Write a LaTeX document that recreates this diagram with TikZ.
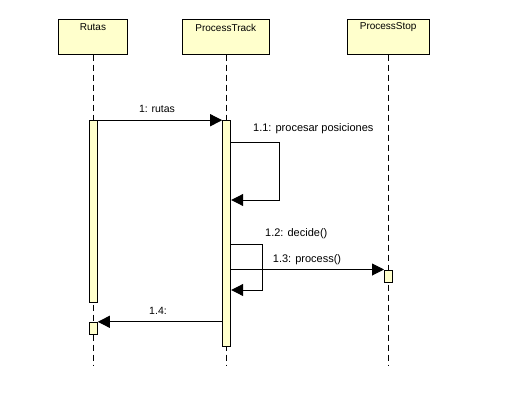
\documentclass[tikz,border=0pt]{standalone}
\usepackage{fontspec}
\setmainfont{Liberation Sans}
\usetikzlibrary{arrows.meta}
\definecolor{boxfill}{RGB}{255,255,204}
\tikzset{
  head/.style={draw=black, fill=boxfill, line width=1pt, minimum height=35pt, inner sep=0pt},
  headtext/.style={font=\fontsize{10}{12}\selectfont, inner sep=0pt},
  lifeline/.style={draw=black, line width=1pt, dash pattern=on 6pt off 4pt},
  act/.style={draw=black, fill=boxfill, line width=1pt, minimum width=8pt, inner sep=0pt},
  msg/.style={draw=black, line width=1pt, -{Triangle[length=12pt,width=12pt]}},
  msglabel/.style={font=\fontsize{10.5}{12}\selectfont, inner sep=0pt},
  msglabelw/.style={font=\fontsize{11}{13}\selectfont, inner sep=0pt, anchor=west},
}
\begin{document}
\begin{tikzpicture}[x=1pt,y=-1pt]
\useasboundingbox[fill=white] (0,0) rectangle (506,407);
% heads
\node[head, minimum width=69pt] (rutas) at (92.8,36.5) {};
\node[head, minimum width=87pt] (ptrack) at (225.8,36.5) {};
\node[head, minimum width=82pt] (pstop) at (388.2,36.5) {};
\node[headtext] (trutas) at (93,27.5) {Rutas};
\node[headtext] (tptrack) at (225.8,27.5) {ProcessTrack};
\node[headtext] (tpstop) at (388.2,27.5) {ProcessStop};
% lifeline ends
\coordinate (erutas) at (93,366);
\coordinate (eptrack) at (226.5,366);
\coordinate (epstop) at (388.5,366);
\draw[lifeline] (rutas.south -| erutas) -- (erutas);
\draw[lifeline] (ptrack.south -| eptrack) -- (eptrack);
\draw[lifeline] (pstop.south -| epstop) -- (epstop);
% activations
\node[act, minimum height=181.6pt] (a1) at (93.3,211.5) {};
\node[act, minimum height=12pt] (a2) at (93.3,328.3) {};
\node[act, minimum height=226pt] (pt) at (226.7,233) {};
\node[act, minimum height=12.3pt] (ps) at (388.5,276.15) {};
% messages
\draw[msg] (a1.north east) -- (pt.west |- a1.north);
\node[msglabel] (l1) at (157,108.5) {1: rutas};
\coordinate (s11) at (0,142);
\coordinate (e11) at (0,200);
\draw[msg] (pt.east |- s11) -- ++(48,0) |- (pt.east |- e11);
\node[msglabelw] (l11) at (253,128.5) {1.1: procesar posiciones};
\coordinate (s12) at (0,244);
\coordinate (e12) at (0,290);
\draw[msg] (pt.east |- s12) -- ++(31.6,0) |- (pt.east |- e12);
\node[msglabelw] (l12) at (265,233.5) {1.2: decide()};
\draw[msg] (pt.east |- ps.north) -- (ps.north west);
\node[msglabelw] (l13) at (272.7,259.5) {1.3: process()};
\draw[msg] (pt.west |- a2.north) -- (a2.north east);
\node[msglabel] (l14) at (158,310.5) {1.4:};
\end{tikzpicture}
\end{document}
